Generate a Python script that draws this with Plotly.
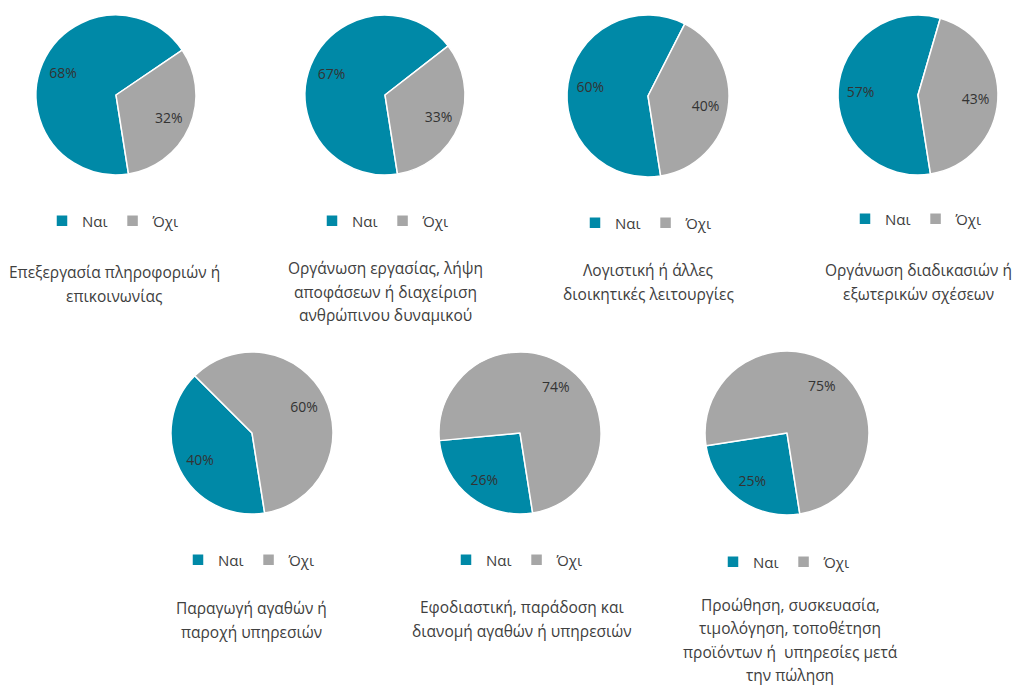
import plotly.graph_objects as go

W, H = 1014, 686

titles = [
    "Επεξεργασία πληροφοριών ή<br>επικοινωνίας",
    "Οργάνωση εργασίας, λήψη<br>αποφάσεων ή διαχείριση<br>ανθρώπινου δυναμικού",
    "Λογιστική ή άλλες<br>διοικητικές λειτουργίες",
    "Οργάνωση διαδικασιών ή<br>εξωτερικών σχέσεων",
    "Παραγωγή αγαθών ή<br>παροχή υπηρεσιών",
    "Εφοδιαστική, παράδοση και<br>διανομή αγαθών ή υπηρεσιών",
    "Προώθηση, συσκευασία,<br>τιμολόγηση, τοποθέτηση<br>προϊόντων ή  υπηρεσίες μετά<br>την πώληση",
]
labels = ["Ναι", "Όχι"]
nai = [68, 67, 60, 57, 40, 26, 25]
oxi = [32, 33, 40, 43, 60, 74, 75]

colors = ["#0089A7", "#A6A6A6"]
FONT = "Open Sans"
TXT = "#404040"

# layout geometry (pixels)
centers = [(116, 95), (385, 95), (648, 96), (918, 95), (252, 433), (520, 433), (787, 433)]
radii = [80, 80, 81, 80, 81, 81, 82]
legend_sym_x = [62, 332, 595, 865, 198, 466, 733]
legend_y = [221, 221, 223, 219, 560, 560, 562]
title_first_y = [272, 268, 270, 270, 608, 607, 604.5]
title_x = [114, 385, 648, 918, 251, 522, 790]
LINE_PITCH = 23.5

fig = go.Figure()
for i in range(7):
    cx, cy = centers[i]
    r = radii[i]
    dom = dict(x=[(cx - r) / W, (cx + r) / W], y=[1 - (cy + r) / H, 1 - (cy - r) / H])
    lg = "legend" if i == 0 else f"legend{i+1}"
    # the pie itself
    fig.add_trace(go.Pie(
        labels=labels,
        values=[nai[i], oxi[i]],
        sort=False,
        direction="clockwise",
        rotation=171,
        marker=dict(colors=colors, line=dict(color="white", width=1.5)),
        textinfo="none",
        hoverinfo="label+percent",
        domain=dom,
        legend=lg,
        legendgroup=f"g{i}",
        showlegend=True,
    ))
    # transparent ring carrying the percentage labels (places them at ~0.72 r)
    fig.add_trace(go.Pie(
        labels=labels,
        values=[nai[i], oxi[i]],
        sort=False,
        direction="clockwise",
        rotation=171,
        hole=0.44,
        marker=dict(colors=["rgba(0,0,0,0)", "rgba(0,0,0,0)"], line=dict(width=0)),
        textinfo="percent",
        texttemplate="%{percent:.0%}",
        textposition="inside",
        insidetextorientation="horizontal",
        textfont=dict(family=FONT, size=14, color="#333333"),
        hoverinfo="skip",
        domain=dom,
        legend=lg,
        legendgroup=f"t{i}",
        showlegend=False,
    ))
    fig.update_layout(**{lg: dict(
        orientation="h", x=(legend_sym_x[i] - 20) / W, y=1 - legend_y[i] / H,
        xanchor="left", yanchor="middle", traceorder="normal",
        font=dict(family=FONT, size=15, color=TXT), bgcolor="rgba(0,0,0,0)",
        itemwidth=30, itemclick=False, itemdoubleclick=False,
    )})
    for k, line in enumerate(titles[i].split("<br>")):
        fig.add_annotation(
            text=line, x=title_x[i] / W, y=1 - (title_first_y[i] + k * LINE_PITCH) / H,
            xref="paper", yref="paper", xanchor="center", yanchor="middle",
            showarrow=False, borderpad=0, font=dict(family=FONT, size=15.5, color=TXT),
        )

fig.update_layout(
    width=W, height=H, margin=dict(l=0, r=0, t=0, b=0),
    paper_bgcolor="white", plot_bgcolor="white",
    font=dict(family=FONT, color=TXT),
)
fig.write_html("out.html", config={"displayModeBar": False},
               post_script="document.body.style.margin='0';")
